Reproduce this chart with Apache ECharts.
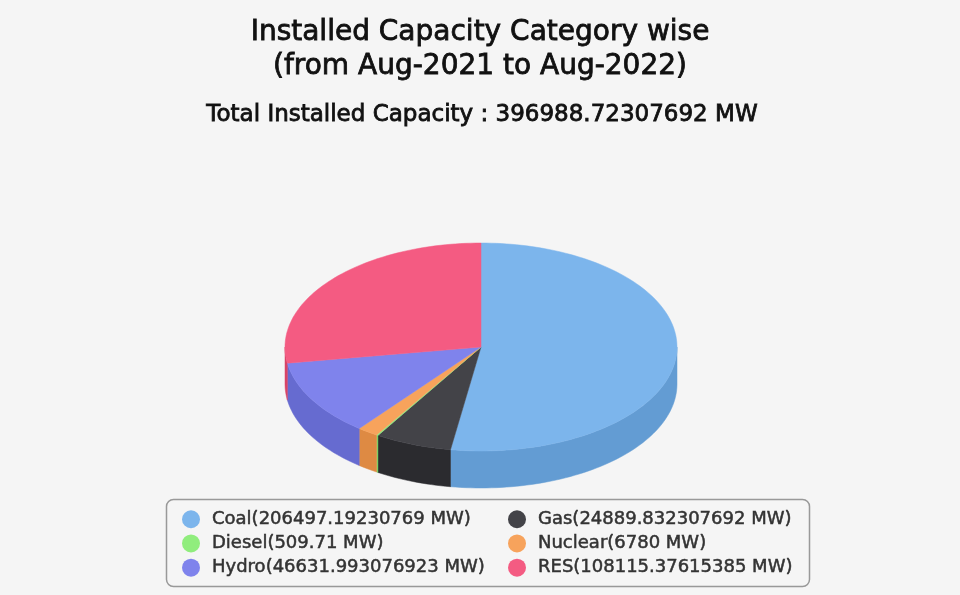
<!DOCTYPE html>
<html>
<head>
<meta charset="utf-8">
<style>
  html, body { margin: 0; padding: 0; background: #f5f5f5; }
  #main { width: 960px; height: 595px; }
</style>
<script src="https://cdn.jsdelivr.net/npm/echarts@6/dist/echarts.min.js"></script>
</head>
<body>
<div id="main"></div>
<script>
const categories = ['Coal', 'Gas', 'Diesel', 'Nuclear', 'Hydro', 'RES']
const values = [206497.19230769, 24889.832307692, 509.71, 6780, 46631.993076923, 108115.37615385]
const topColors = ['#7cb5ec', '#434348', '#90ed7d', '#f7a35c', '#7f83ec', '#f45b82']
const sideColors = ['#639cd3', '#2b2b2f', '#77d464', '#de8a43', '#666bd0', '#d84367']

const FONT = '"DejaVu Sans", sans-serif'
// pie geometry: an ellipse plus a wall below it
const cx = 481
const cy = 347
const rx = 196
const ry = 104
const depth = 37

const total = values.reduce((a, b) => a + b, 0)
const legendNames = categories.map((c, i) => c + '(' + values[i] + ' MW)')

const rimPoint = (deg, drop) => {
  const rad = (deg * Math.PI) / 180
  return [cx + rx * Math.sin(rad), cy - ry * Math.cos(rad) + drop]
}

const arcPoints = (from, to, drop) => {
  const steps = Math.max(2, Math.ceil((to - from) / 1.5))
  const pts = []
  for (let s = 0; s <= steps; s++) {
    pts.push(rimPoint(from + ((to - from) * s) / steps, drop))
  }
  return pts
}

const makeRenderItem = index => (params, api) => {
  const before = values.slice(0, index).reduce((a, b) => a + b, 0)
  const from = (before / total) * 360
  const to = from + (api.value(0) / total) * 360
  const children = []
  // only the part of the rim facing us (90 to 270 degrees) has a visible wall
  const wallFrom = Math.max(from, 90)
  const wallTo = Math.min(to, 270)
  if (wallTo > wallFrom) {
    children.push({
      type: 'polygon',
      z2: 1,
      shape: {
        points: arcPoints(wallFrom, wallTo, 0).concat(arcPoints(wallFrom, wallTo, depth).reverse())
      },
      style: { fill: sideColors[index], stroke: sideColors[index], lineWidth: 0.5 }
    })
  }
  children.push({
    type: 'polygon',
    z2: 10,
    shape: { points: [[cx, cy]].concat(arcPoints(from, to, 0)) },
    style: { fill: topColors[index], stroke: topColors[index], lineWidth: 0.5 }
  })
  return { type: 'group', children }
}

// two legends side by side give the two aligned columns
const legendColumn = (left, names) => ({
  left,
  top: 510,
  orient: 'vertical',
  padding: 0,
  itemGap: 5.7,
  itemWidth: 18,
  itemHeight: 18,
  icon: 'circle',
  selectedMode: false,
  data: names,
  textStyle: {
    fontFamily: FONT,
    fontSize: 18,
    color: '#333',
    lineHeight: 18,
    padding: [0, 0, 0, 7],
    textBorderColor: '#333',
    textBorderWidth: 0.5
  }
})

const chart = echarts.init(document.getElementById('main'), null, { renderer: 'canvas' })
chart.setOption({
  animation: false,
  backgroundColor: '#f5f5f5',
  title: [
    {
      text: 'Installed Capacity Category wise\n(from Aug-2021 to Aug-2022)',
      left: 480,
      top: 16,
      textAlign: 'center',
      padding: 0,
      textStyle: {
        fontFamily: FONT,
        fontSize: 28,
        fontWeight: 'normal',
        color: '#111',
        lineHeight: 34,
        textBorderColor: '#111',
        textBorderWidth: 0.8
      }
    },
    {
      text: 'Total Installed Capacity : 396988.72307692 MW',
      left: 482,
      top: 102,
      textAlign: 'center',
      padding: 0,
      textStyle: {
        fontFamily: FONT,
        fontSize: 23,
        fontWeight: 'normal',
        color: '#111',
        lineHeight: 26,
        textBorderColor: '#111',
        textBorderWidth: 0.8
      }
    }
  ],
  graphic: [
    {
      type: 'rect',
      z: -1,
      shape: { x: 166.5, y: 499.5, width: 643, height: 87, r: 7 },
      style: { fill: '#f5f5f5', stroke: '#999', lineWidth: 1.5 }
    }
  ],
  legend: [
    legendColumn(182, [legendNames[0], legendNames[2], legendNames[4]]),
    legendColumn(508, [legendNames[1], legendNames[3], legendNames[5]])
  ],
  series: categories.map((c, i) => ({
    type: 'custom',
    name: legendNames[i],
    coordinateSystem: 'none',
    silent: true,
    itemStyle: { color: topColors[i] },
    data: [[values[i]]],
    renderItem: makeRenderItem(i)
  }))
})
</script>
</body>
</html>
